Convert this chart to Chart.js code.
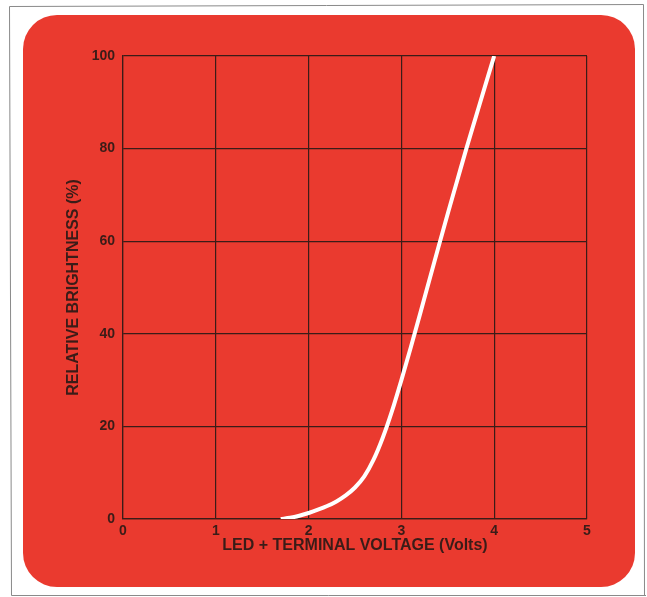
<!DOCTYPE html>
<html>
<head>
<meta charset="utf-8">
<script src="https://cdn.jsdelivr.net/npm/chart.js@4"></script>
<style>
html,body{margin:0;padding:0;background:#fff;}
#c{display:block;}
</style>
</head>
<body>
<canvas id="c" width="647" height="597"></canvas>
<script>
// Data
const voltage    = [1.7, 1.8,  1.9, 2.0, 2.1, 2.2, 2.3, 2.4, 2.5, 2.6, 2.7,  2.8,  2.9,  3.0, 3.1, 3.2,  3.3,  3.4,  3.5, 3.6, 3.7, 3.8,  3.9,  4.0];
const brightness = [0,   0.25, 0.7, 1.3, 2.0, 2.8, 3.8, 5.1, 6.8, 9.2, 12.8, 17.6, 23.4, 30,  37,  44.2, 51.5, 58.8, 66,  73,  80,  86.7, 93.4, 100];
const xTicks = [0, 1, 2, 3, 4, 5];
const yTicks = [0, 20, 40, 60, 80, 100];
const xTitle = 'LED + TERMINAL VOLTAGE (Volts)';
const yTitle = 'RELATIVE BRIGHTNESS (%)';

const RED = '#ea3a2f';
const INK = '#3a1c18';

const points = voltage.map((v, i) => ({x: v, y: brightness[i]}));

const bgPlugin = {
  id: 'bg',
  beforeDraw(chart) {
    const ctx = chart.ctx;
    ctx.save();
    ctx.fillStyle = '#fff';
    ctx.fillRect(0, 0, chart.width, chart.height);
    // outer thin frame
    ctx.strokeStyle = '#8a8a8a';
    ctx.lineWidth = 1;
    ctx.beginPath();
    ctx.moveTo(9.5, 6.5); ctx.lineTo(643.5, 4.5);
    ctx.moveTo(9.5, 6.5); ctx.lineTo(11.5, 595.5);
    ctx.moveTo(11.5, 595.5); ctx.lineTo(646, 595.5);
    ctx.moveTo(643.5, 4.5); ctx.lineTo(644.5, 595.5);
    ctx.stroke();
    // red rounded panel
    ctx.fillStyle = RED;
    ctx.beginPath();
    ctx.roundRect(23, 15, 612, 572, 34);
    ctx.fill();
    ctx.restore();
  }
};

new Chart(document.getElementById('c'), {
  type: 'scatter',
  data: {
    datasets: [{
      data: points,
      showLine: true,
      borderColor: '#ffffff',
      borderWidth: 4,
      pointRadius: 0,
      cubicInterpolationMode: 'monotone',
      fill: false
    }]
  },
  options: {
    responsive: false,
    animation: false,
    devicePixelRatio: 1,
    layout: {padding: {left: 0, top: 56, right: 60, bottom: 0}},
    plugins: {legend: {display: false}, tooltip: {enabled: false}},
    scales: {
      x: {
        type: 'linear',
        min: 0, max: 5,
        afterBuildTicks(scale) { scale.ticks = xTicks.map(v => ({value: v})); },
        afterFit(scale) { scale.height = 78; },
        grid: {color: INK, lineWidth: 1.2, drawTicks: false},
        border: {color: INK, width: 1.2},
        ticks: {color: INK, font: {family: 'Liberation Sans', size: 14, weight: 'bold'}, padding: 4, maxRotation: 0},
        title: {display: true, text: xTitle, color: INK,
                font: {family: 'Liberation Sans', size: 16, weight: 'bold'},
                padding: {top: 0, bottom: 42}}
      },
      y: {
        type: 'linear',
        min: 0, max: 100,
        afterBuildTicks(scale) { scale.ticks = yTicks.map(v => ({value: v})); },
        afterFit(scale) { scale.width = 123; },
        grid: {color: INK, lineWidth: 1.2, drawTicks: false},
        border: {color: INK, width: 1.2},
        ticks: {color: INK, font: {family: 'Liberation Sans', size: 14, weight: 'bold'}, padding: 8},
        title: {display: true, text: yTitle, color: INK,
                font: {family: 'Liberation Sans', size: 16, weight: 'bold'},
                padding: {top: 64, bottom: 0}}
      }
    }
  },
  plugins: [bgPlugin]
});
</script>
</body>
</html>
